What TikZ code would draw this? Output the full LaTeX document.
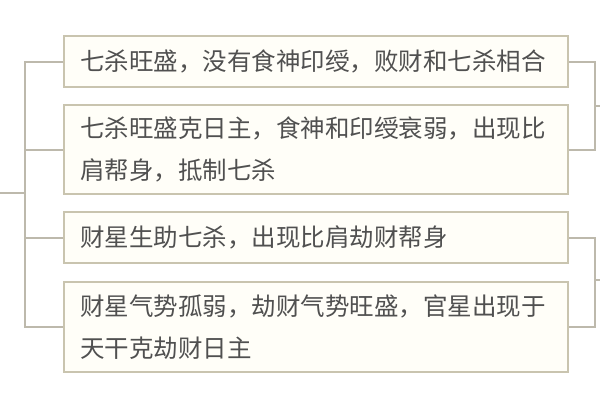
\documentclass[tikz,border=0pt]{standalone}
\usepackage{fontspec}
\newfontfamily\cjk{Noto Sans CJK SC}
\definecolor{boxline}{HTML}{C9C4AF}
\definecolor{conline}{HTML}{BDB9AC}
\definecolor{boxfill}{HTML}{FFFEF8}
\definecolor{txt}{HTML}{505050}
\begin{document}
\begin{tikzpicture}[x=1pt,y=-1pt,
  itembox/.style={draw=boxline, line width=2pt, fill=boxfill, minimum width=504pt,
    text width=472pt, align=left, inner xsep=16pt, inner ysep=0pt,
    font=\cjk\fontsize{24.5}{42}\selectfont, text=txt},
  conn/.style={draw=conline, line width=2pt}]
\useasboundingbox[fill=white] (0,0) rectangle (600,400);
\node[itembox, minimum height=51pt] (b1) at (316,61.5) {七杀旺盛，没有食神印绶，败财和七杀相合};
\node[itembox, minimum height=89pt] (b2) at (316,149.5) {七杀旺盛克日主，食神和印绶衰弱，出现比\\肩帮身，抵制七杀};
\node[itembox, minimum height=51pt] (b3) at (316,237.5) {财星生助七杀，出现比肩劫财帮身};
\node[itembox, minimum height=90pt] (b4) at (316,327) {财星气势孤弱，劫财气势旺盛，官星出现于\\天干克劫财日主};
% left bracket
\coordinate (lroot) at (0,193);
\coordinate (lspine) at (25,193);
\draw[conn] (b1.west) -- (b1.west -| lspine) -- (b4.west -| lspine) -- (b4.west);
\draw[conn] (b2.west) -- (b2.west -| lspine);
\draw[conn] (b3.west) -- (b3.west -| lspine);
\draw[conn] (lroot) -- (lspine);
% right brackets
\coordinate (rs1) at (595,106);
\coordinate (rt1) at (600,106);
\draw[conn] (b1.east) -- (b1.east -| rs1) -- (b2.east -| rs1) -- (b2.east);
\draw[conn] (rs1) -- (rt1);
\coordinate (rs2) at (595,280);
\coordinate (rt2) at (600,280);
\draw[conn] (b3.east) -- (b3.east -| rs2) -- (b4.east -| rs2) -- (b4.east);
\draw[conn] (rs2) -- (rt2);
\end{tikzpicture}
\end{document}
